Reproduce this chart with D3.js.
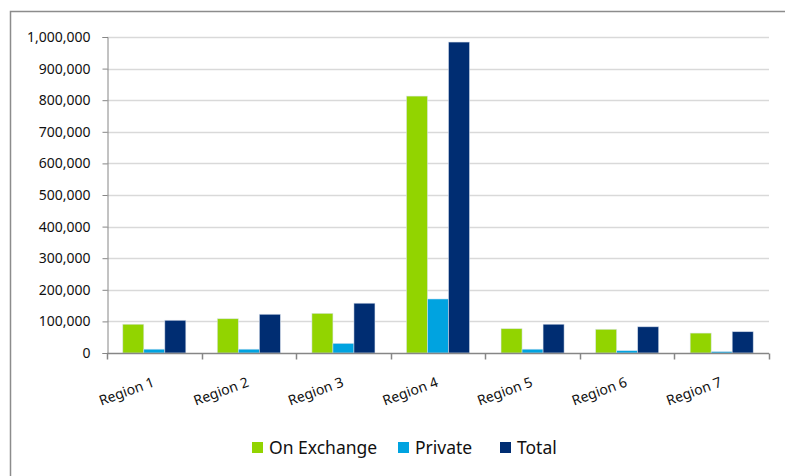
<!DOCTYPE html>
<html>
<head>
<meta charset="utf-8">
<script src="https://cdn.jsdelivr.net/npm/d3@7"></script>
<style>
  body { margin: 0; background: #fff; }
  svg { display: block; font-family: 'Noto Sans', sans-serif; }
</style>
</head>
<body>
<div id="chart-area"></div>
<script>
// Data
const regions = ['Region 1', 'Region 2', 'Region 3', 'Region 4', 'Region 5', 'Region 6', 'Region 7'];
const seriesNames = ['On Exchange', 'Private', 'Total'];
const onExchange = [91000, 108500, 125500, 813000, 77000, 75000, 63000];
const privateVals = [12000, 12000, 30500, 171000, 12000, 7500, 4500];
const totalVals = [103500, 122500, 157500, 984000, 91000, 83000, 67500];
const yTicks = [0, 100000, 200000, 300000, 400000, 500000, 600000, 700000, 800000, 900000, 1000000];

const colors = ['#92D400', '#00A3E0', '#002D72'];
const seriesVals = [onExchange, privateVals, totalVals];

// Build table
const table = regions.map((r, i) => ({
    region: r,
    values: seriesNames.map((s, j) => ({ key: s, value: seriesVals[j][i] }))
}));

const W = 785, H = 476;
const plot = { left: 107, right: 769, top: 37, bottom: 353 };

const svg = d3.select('#chart-area')
    .append('svg')
        .attr('width', W)
        .attr('height', H);

// Frame
svg.append('rect')
    .attr('x', 10.5)
    .attr('y', 11.5)
    .attr('width', 800)
    .attr('height', 500)
    .attr('fill', '#fff')
    .attr('stroke', '#8c8c8c')
    .attr('stroke-width', 1.5);

// Scales
const x0 = d3.scaleBand()
    .domain(regions)
    .range([plot.left, plot.right])
    .padding(0);

const x1 = d3.scaleBand()
    .domain(seriesNames)
    .range([0, x0.bandwidth()])
    .paddingInner(0)
    .paddingOuter(0.75);

const y = d3.scaleLinear()
    .domain([0, 1000000])
    .range([plot.bottom, plot.top]);

// Gridlines
svg.append('g')
    .selectAll('line')
    .data(yTicks.slice(1))
    .enter().append('line')
        .attr('x1', plot.left)
        .attr('x2', plot.right)
        .attr('y1', (d) => Math.round(y(d)) + 0.5)
        .attr('y2', (d) => Math.round(y(d)) + 0.5)
        .attr('stroke', '#d9d9d9')
        .attr('stroke-width', 1.5);

// Y Axis
const yAxisCall = d3.axisLeft(y)
    .tickValues(yTicks)
    .tickSize(5)
    .tickPadding(12)
    .tickFormat(d3.format(','));
const yAxisGroup = svg.append('g')
    .attr('transform', 'translate(' + (plot.left + 0.5) + ', 0)')
    .call(yAxisCall);
yAxisGroup.select('.domain').attr('stroke', '#868686');
yAxisGroup.selectAll('.tick line').attr('stroke', '#868686');
yAxisGroup.selectAll('.tick text')
    .attr('font-size', '14px')
    .attr('font-family', 'Noto Sans')
    .attr('fill', '#111');

// Bars
const groups = svg.append('g')
    .selectAll('g')
    .data(table)
    .enter().append('g')
        .attr('transform', (d) => 'translate(' + x0(d.region) + ', 0)');

groups.selectAll('rect')
    .data((d) => d.values)
    .enter().append('rect')
        .attr('x', (d) => x1(d.key))
        .attr('width', x1.bandwidth())
        .attr('y', (d) => y(d.value))
        .attr('height', (d) => plot.bottom - y(d.value))
        .attr('fill', (d, i) => colors[i])
        .attr('stroke', 'rgba(220,228,240,0.7)')
        .attr('stroke-width', 0.75);

// X Axis
const xAxisGroup = svg.append('g')
    .attr('transform', 'translate(0, ' + (plot.bottom + 0.5) + ')');
xAxisGroup.append('line')
    .attr('x1', plot.left)
    .attr('x2', plot.right)
    .attr('stroke', '#868686')
    .attr('stroke-width', 1.5);
const bounds = regions.map((r) => x0(r)).concat([plot.right]);
xAxisGroup.selectAll('.xtick')
    .data(bounds)
    .enter().append('line')
        .attr('class', 'xtick')
        .attr('x1', (d) => Math.round(d) + 0.5)
        .attr('x2', (d) => Math.round(d) + 0.5)
        .attr('y1', 0)
        .attr('y2', 6)
        .attr('stroke', '#868686')
        .attr('stroke-width', 1.5);

// X Labels
svg.append('g')
    .selectAll('text')
    .data(regions)
    .enter().append('text')
        .attr('transform', (d) => 'translate(' + (x0(d) + x0.bandwidth() / 2 + 1) + ', ' + (plot.bottom + 33) + ') rotate(-20)')
        .attr('text-anchor', 'end')
        .attr('font-size', '14px')
        .attr('fill', '#111')
        .text((d) => d);

// Legend
const legendX = [252, 398, 500];
const legend = svg.append('g')
    .selectAll('g')
    .data(seriesNames)
    .enter().append('g')
        .attr('transform', (d, i) => 'translate(' + legendX[i] + ', 442)');
legend.append('rect')
    .attr('width', 11)
    .attr('height', 11)
    .attr('fill', (d, i) => colors[i]);
legend.append('text')
    .attr('x', 17)
    .attr('y', 12)
    .attr('font-size', '17.5px')
    .attr('fill', '#111')
    .text((d) => d);
</script>
</body>
</html>
